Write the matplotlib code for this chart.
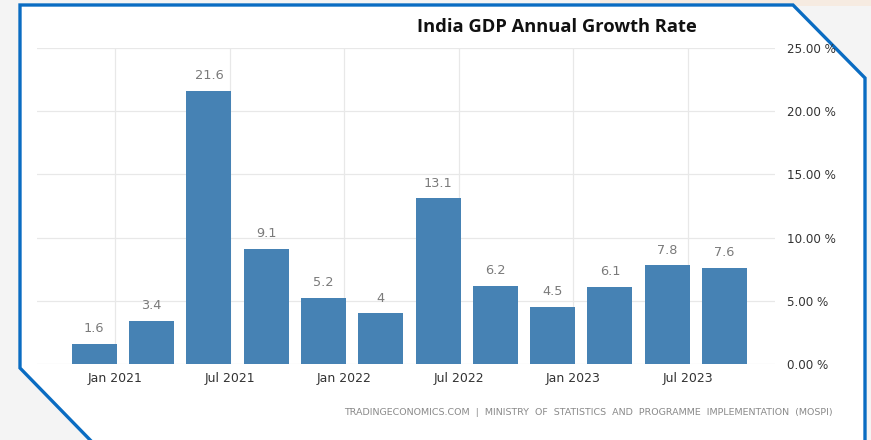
import matplotlib
matplotlib.use("Agg")
import matplotlib.pyplot as plt
from matplotlib.patches import Polygon, Rectangle
import numpy as np

values = [1.6, 3.4, 21.6, 9.1, 5.2, 4, 13.1, 6.2, 4.5, 6.1, 7.8, 7.6]
value_labels = ["1.6", "3.4", "21.6", "9.1", "5.2", "4", "13.1", "6.2", "4.5", "6.1", "7.8", "7.6"]
tick_labels = ["Jan 2021", "Jul 2021", "Jan 2022", "Jul 2022", "Jan 2023", "Jul 2023"]
y_ticks = [0, 5, 10, 15, 20, 25]
title = "India GDP Annual Growth Rate"
source = "TRADINGECONOMICS.COM  |  MINISTRY  OF  STATISTICS  AND  PROGRAMME  IMPLEMENTATION  (MOSPI)"

W, H = 871, 440
fig = plt.figure(figsize=(W / 100, H / 100), dpi=100)
fig.patch.set_facecolor("#f4f4f4")

# background decoration in figure pixel coordinates
bg = fig.add_axes([0, 0, 1, 1])
bg.set_xlim(0, W)
bg.set_ylim(H, 0)
bg.axis("off")
bg.add_patch(Rectangle((600, 0), 271, 6, facecolor="#f6ebe1", edgecolor="none"))
poly = [(20, 5), (793, 5), (865, 78), (865, 445), (95, 445), (20, 368)]
bg.add_patch(Polygon(poly, closed=True, facecolor="white", edgecolor="#0a6cc2", linewidth=2.4, joinstyle="miter"))

ax = fig.add_axes([37 / W, 1 - 364 / H, (775 - 37) / W, (364 - 48) / H])
ax.patch.set_alpha(0)
x = np.arange(len(values))
ax.bar(x, values, width=0.785, color="#4682b4", zorder=3)
for xi, v, lab in zip(x, values, value_labels):
    ax.text(xi, v + 0.7, lab, ha="center", va="bottom", fontsize=9.3, color="#7a7a7a", family="DejaVu Sans")

tick_pos = 0.36 + 2 * np.arange(len(tick_labels))
ax.set_xticks(tick_pos)
ax.set_xticklabels(tick_labels, fontsize=9, color="#333333", family="DejaVu Sans")
ax.set_yticks(y_ticks)
ax.set_yticklabels([f"{t:.2f} %" for t in y_ticks], fontsize=8.6, color="#333333", family="DejaVu Sans")
ax.yaxis.tick_right()
ax.tick_params(length=0, axis="y", pad=8.5)
ax.tick_params(length=0, axis="x", pad=6)
ax.set_xlim(-1.0, 11.88)
ax.set_ylim(0, 25)
for s in ax.spines.values():
    s.set_visible(False)
ax.grid(True, color="#e8e8e8", linewidth=0.9, zorder=0)
ax.set_axisbelow(True)

fig.text(557 / W, 1 - 27 / H, title, ha="center", va="center", fontsize=13.2, fontweight="bold", color="#111111", family="Open Sans")
fig.text(833 / W, 1 - 412 / H, source, ha="right", va="center", fontsize=6.8, color="#8a8a8a", family="DejaVu Sans")

fig.savefig("out.png", dpi=100, facecolor=fig.get_facecolor())
